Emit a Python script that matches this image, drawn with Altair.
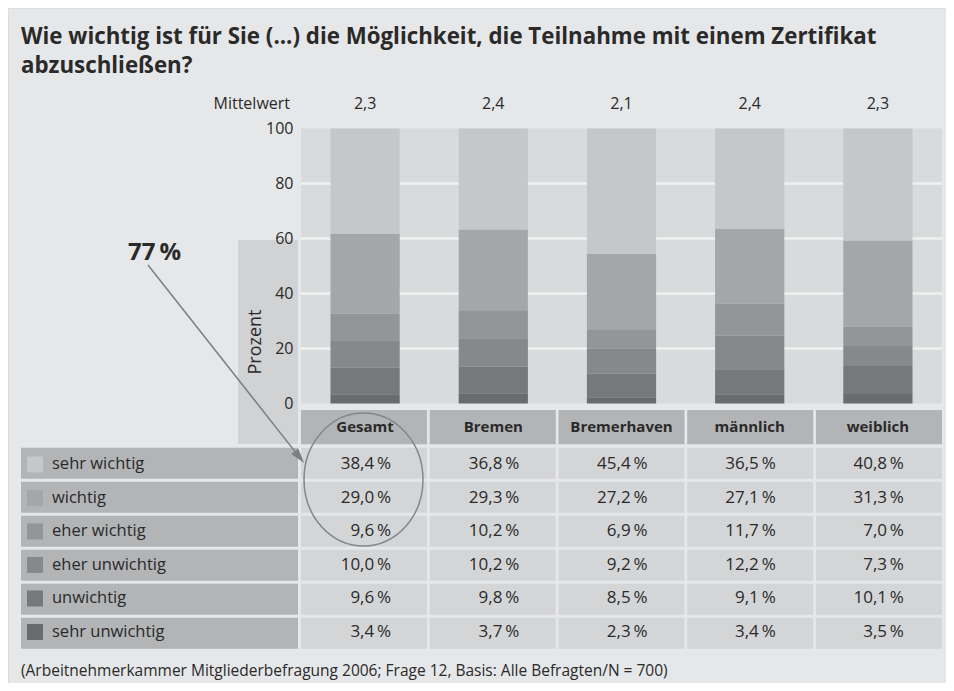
import altair as alt
import pandas as pd

# ---------------- data ----------------
groups = ["Gesamt", "Bremen", "Bremerhaven", "männlich", "weiblich"]
mittelwert = ["2,3", "2,4", "2,1", "2,4", "2,3"]
categories = ["sehr wichtig", "wichtig", "eher wichtig", "eher unwichtig", "unwichtig", "sehr unwichtig"]
sehr_wichtig = [38.4, 36.8, 45.4, 36.5, 40.8]
wichtig = [29.0, 29.3, 27.2, 27.1, 31.3]
eher_wichtig = [9.6, 10.2, 6.9, 11.7, 7.0]
eher_unwichtig = [10.0, 10.2, 9.2, 12.2, 7.3]
unwichtig = [9.6, 9.8, 8.5, 9.1, 10.1]
sehr_unwichtig = [3.4, 3.7, 2.3, 3.4, 3.5]
y_ticks = [0, 20, 40, 60, 80, 100]
grid_values = [20, 40, 60, 80]
title_lines = ["Wie wichtig ist für Sie (...) die Möglichkeit, die Teilnahme mit einem Zertifikat",
               "abzuschließen?"]
footnote = "(Arbeitnehmerkammer Mitgliederbefragung 2006; Frage 12, Basis: Alle Befragten/N = 700)"
highlight = "77\u2009%"

# ---------------- styles ----------------
shades = ["#c6c7c9", "#a5a6a9", "#949598", "#87888b", "#77787b", "#6a6b6e"]
PAGE_BG = "#e6e7e9"
PLOT_BG = "#d9dadc"
GRID = "#eff0f1"
BOX = "#d1d2d4"
HEAD = "#b3b4b6"
CELL = "#d4d5d7"
INK = "#2a2a2a"
ANNO = "#7d7e80"
FONT = "Open Sans"

series = [sehr_wichtig, wichtig, eher_wichtig, eher_unwichtig, unwichtig, sehr_unwichtig]


def fmt(v):
    return f"{v:.1f}".replace(".", ",") + "\u2009%"


rows = []
for ci, (cat, vals) in enumerate(zip(categories, series)):
    for g, v in zip(groups, vals):
        rows.append({"group": g, "cat": cat, "value": v, "rank": len(categories) - ci, "label": fmt(v)})
long_df = pd.DataFrame(rows)
mw_df = pd.DataFrame({"group": groups, "mw": mittelwert})
head_df = pd.DataFrame({"group": groups, "row": ["Kopf"] * len(groups)})
cat_df = pd.DataFrame({"cat": categories})
grid_df = pd.DataFrame({"g": grid_values})
one = pd.DataFrame({"t": [""]})

# ---------------- scales (explicit pixel ranges) ----------------
X_BAR = alt.Scale(domain=groups, range=[293, 934], paddingInner=0.46, paddingOuter=0.23)
X_TAB = alt.Scale(domain=groups, range=[293, 934], paddingInner=0.021, paddingOuter=0)
Y_BAR = alt.Scale(domain=[0, 100], range=[395.5, 120.5], nice=False)
Y_ROW = alt.Scale(domain=categories, range=[439.7, 640.7], paddingInner=0.088, paddingOuter=0)
Y_HEAD = alt.Scale(domain=["Kopf"], range=[402, 436.3], paddingInner=0, paddingOuter=0)
COL = alt.Scale(domain=categories, range=shades)

# ---------------- layers ----------------
box = alt.Chart(one).mark_rect(color=BOX).encode(
    x=alt.value(230), x2=alt.value(290), y=alt.value(232), y2=alt.value(436))

plot_bg = alt.Chart(one).mark_rect(color=PLOT_BG).encode(
    x=alt.value(293), x2=alt.value(934), y=alt.value(120.5), y2=alt.value(395.5))

grid = alt.Chart(grid_df).mark_rule(color=GRID, strokeWidth=2.5).encode(
    y=alt.Y("g:Q", scale=Y_BAR, axis=None), x=alt.value(293), x2=alt.value(934))

bars = alt.Chart(long_df).transform_joinaggregate(
    total="sum(value)", groupby=["group"]
).transform_calculate(
    pct="datum.value * 100 / datum.total"
).mark_bar().encode(
    x=alt.X("group:N", scale=X_BAR, axis=None),
    y=alt.Y("pct:Q", scale=Y_BAR, stack=True,
            axis=alt.Axis(values=y_ticks, orient="left", offset=-285, domain=False, ticks=False,
                          tickSize=0, labelPadding=0, grid=False, labelFont=FONT, labelFontSize=16,
                          labelColor=INK, title="Prozent", titleX=-38, titleY=333.5, titleAngle=270,
                          titleAlign="center", titleBaseline="middle", titleFont=FONT,
                          titleFontSize=18, titleFontWeight="normal", titleColor=INK, zindex=1)),
    color=alt.Color("cat:N", scale=COL, legend=None),
    order=alt.Order("rank:Q", sort="ascending"),
)

mw_text = alt.Chart(mw_df).mark_text(font=FONT, fontSize=16, color=INK, baseline="alphabetic").encode(
    x=alt.X("group:N", scale=X_BAR, axis=None), y=alt.value(101), text="mw:N")

mw_label = alt.Chart(pd.DataFrame({"t": ["Mittelwert"]})).mark_text(
    font=FONT, fontSize=16, color=INK, align="right", baseline="alphabetic").encode(
    x=alt.value(282), y=alt.value(101), text="t:N")

head_rect = alt.Chart(head_df).mark_rect(color=HEAD).encode(
    x=alt.X("group:N", scale=X_TAB, axis=None), y=alt.Y("row:N", scale=Y_HEAD, axis=None))
head_text = alt.Chart(head_df).mark_text(font=FONT, fontSize=15, fontWeight="bold", color=INK,
                                         baseline="middle").encode(
    x=alt.X("group:N", scale=X_TAB, axis=None), y=alt.Y("row:N", scale=Y_HEAD, axis=None),
    text="group:N")

leg_rect = alt.Chart(cat_df).mark_rect(color=HEAD).encode(
    x=alt.value(13), x2=alt.value(290), y=alt.Y("cat:N", scale=Y_ROW, axis=None))
leg_swatch = alt.Chart(cat_df).mark_square(size=256, opacity=1, filled=True).encode(
    x=alt.value(27), y=alt.Y("cat:N", scale=Y_ROW, axis=None),
    color=alt.Color("cat:N", scale=COL, legend=None))
leg_text = alt.Chart(cat_df).mark_text(font=FONT, fontSize=16.5, color=INK, align="left",
                                       baseline="middle").encode(
    x=alt.value(44), y=alt.Y("cat:N", scale=Y_ROW, axis=None), text="cat:N")

cell_rect = alt.Chart(long_df).mark_rect(color=CELL).encode(
    x=alt.X("group:N", scale=X_TAB, axis=None), y=alt.Y("cat:N", scale=Y_ROW, axis=None))
cell_text = alt.Chart(long_df).mark_text(font=FONT, fontSize=17, color=INK, align="right", dx=26,
                                         baseline="middle").encode(
    x=alt.X("group:N", scale=X_TAB, axis=None), y=alt.Y("cat:N", scale=Y_ROW, axis=None),
    text="label:N")

arrow_line = alt.Chart(one).mark_rule(color=ANNO, strokeWidth=1.5).encode(
    x=alt.value(140), y=alt.value(257), x2=alt.value(291.4), y2=alt.value(449.1))
arrow_head = alt.Chart(one).mark_point(shape="M0,-1L0.6,1L-0.6,1Z", size=225, filled=True,
                                       opacity=1, angle=141.8, color=ANNO).encode(
    x=alt.value(291.4), y=alt.value(449.1))
ellipse = alt.Chart(one).mark_point(shape="M-1,0A1,1.118 0 1,0 1,0A1,1.118 0 1,0 -1,0Z",
                                    size=14161, filled=False, opacity=1, strokeWidth=1.5,
                                    color="#858688").encode(
    x=alt.value(355.5), y=alt.value(471.5))
hl_text = alt.Chart(pd.DataFrame({"t": [highlight]})).mark_text(
    font=FONT, fontSize=24, fontWeight="bold", color=INK, align="left", baseline="alphabetic").encode(
    x=alt.value(120), y=alt.value(252), text="t:N")

foot = alt.Chart(pd.DataFrame({"t": [footnote]})).mark_text(
    font=FONT, fontSize=15.5, color=INK, align="left", baseline="alphabetic").encode(
    x=alt.value(13), y=alt.value(668), text="t:N")

chart = alt.layer(
    box, plot_bg, grid, bars, mw_text, mw_label,
    head_rect, head_text, leg_rect, leg_swatch, leg_text, cell_rect, cell_text,
    arrow_line, arrow_head, ellipse, hl_text, foot,
).resolve_scale(x="independent", y="independent", color="independent").properties(
    width=938, height=675,
    autosize=alt.AutoSizeParams(type="none"),
    padding=0,
    background=PAGE_BG,
    title=alt.TitleParams(text=title_lines, anchor="start", frame="group", orient="top", offset=-87,
                          dx=13, baseline="alphabetic", font=FONT, fontSize=22.3, fontWeight="bold",
                          color=INK, lineHeight=29),
).configure_view(strokeWidth=0).configure(font=FONT)

chart.save("out.html", embed_options={"renderer": "svg", "actions": False})
